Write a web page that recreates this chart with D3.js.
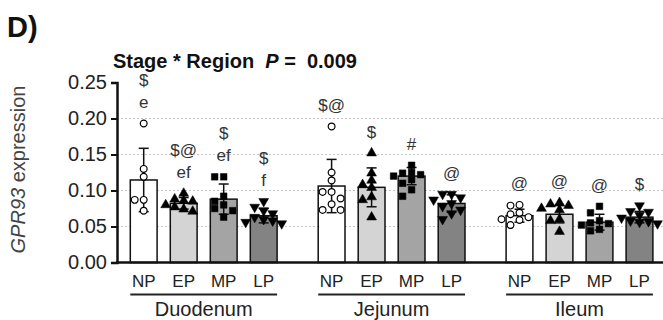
<!DOCTYPE html>
<html>
<head>
<meta charset="utf-8">
<script src="https://cdn.jsdelivr.net/npm/d3@7"></script>
<style>
  body { margin: 0; background: #fff; }
  text { font-family: "Liberation Sans", Arial, sans-serif; }
</style>
</head>
<body>
<svg id="chart"></svg>
<script>
const width = 663;
const height = 320;

const regions = ["Duodenum", "Jejunum", "Ileum"];
const stages = ["NP", "EP", "MP", "LP"];
const yTicks = [0, 0.05, 0.10, 0.15, 0.20, 0.25];

// bar heights (mean) and SD
const duodenumMeans = [0.1146, 0.0822, 0.088, 0.065];
const jejunumMeans = [0.1062, 0.1044, 0.120, 0.082];
const ileumMeans = [0.065, 0.067, 0.056, 0.063];

const duodenumSD = [0.044, 0.008, 0.021, 0.010];
const jejunumSD = [0.037, 0.027, 0.012, 0.012];
const ileumSD = [0.009, 0.012, 0.011, 0.008];

// individual animals
const duodenumPoints = [
  [0.193, 0.130, 0.119, 0.087, 0.087, 0.072],
  [0.096, 0.088, 0.086, 0.085, 0.080, 0.077, 0.074, 0.071],
  [0.119, 0.119, 0.092, 0.085, 0.080, 0.075, 0.072, 0.063],
  [0.085, 0.077, 0.072, 0.068, 0.063, 0.060, 0.058, 0.056, 0.054]
];
const jejunumPoints = [
  [0.189, 0.125, 0.114, 0.098, 0.098, 0.089, 0.081, 0.073, 0.073],
  [0.152, 0.124, 0.114, 0.108, 0.104, 0.091, 0.087, 0.063],
  [0.135, 0.125, 0.124, 0.122, 0.120, 0.115, 0.110, 0.101, 0.092],
  [0.095, 0.095, 0.090, 0.087, 0.082, 0.078, 0.073, 0.068, 0.060]
];
const ileumPoints = [
  [0.080, 0.079, 0.069, 0.067, 0.063, 0.060, 0.059, 0.052],
  [0.083, 0.081, 0.079, 0.075, 0.073, 0.060, 0.058, 0.043],
  [0.078, 0.069, 0.058, 0.055, 0.054, 0.052, 0.046, 0.044],
  [0.079, 0.071, 0.070, 0.066, 0.062, 0.058, 0.057, 0.056, 0.054]
];

// significance letters, top line first
const duodenumLetters = [["$", "e"], ["$@", "ef"], ["$", "ef"], ["$", "f"]];
const jejunumLetters = [["$@"], ["$"], ["#"], ["@"]];
const ileumLetters = [["@"], ["@"], ["@"], ["$"]];

const stageFill = ["#ffffff", "#d4d4d4", "#a4a4a4", "#838383"];
const stageSymbol = [d3.symbolCircle, d3.symbolTriangle, d3.symbolSquare, d3.symbolTriangle];

const byRegion = {
  Duodenum: [duodenumMeans, duodenumSD, duodenumPoints, duodenumLetters],
  Jejunum: [jejunumMeans, jejunumSD, jejunumPoints, jejunumLetters],
  Ileum: [ileumMeans, ileumSD, ileumPoints, ileumLetters]
};

const rows = [];
regions.forEach(r => {
  const [m, s, p, l] = byRegion[r];
  stages.forEach((st, i) => {
    rows.push({ region: r, stage: st, i, mean: m[i], sd: s[i], points: p[i], letters: l[i] });
  });
});

const svg = d3.select("#chart")
  .attr("width", width)
  .attr("height", height);

const axisX = 117;

const y = d3.scaleLinear()
  .domain([0, 0.25])
  .range([262.5, 82.5]);

const xRegion = d3.scaleBand()
  .domain(regions)
  .range([123.7, 659.5])
  .paddingInner(0.1485)
  .paddingOuter(0);

const xStage = d3.scaleBand()
  .domain(stages)
  .range([0, xRegion.bandwidth()])
  .paddingInner(0.33)
  .paddingOuter(0.165);

const barX = d => xRegion(d.region) + xStage(d.stage);
const barC = d => barX(d) + xStage.bandwidth() / 2;

// grid
svg.append("g")
  .selectAll("line")
  .data(yTicks.filter(t => t > 0 && t < 0.25))
  .join("line")
  .attr("x1", axisX)
  .attr("x2", width)
  .attr("y1", d => y(d))
  .attr("y2", d => y(d))
  .attr("stroke", "#c4c4c4")
  .attr("stroke-width", 1)
  .attr("stroke-dasharray", "2,2");

// bars
svg.append("g")
  .selectAll("rect")
  .data(rows)
  .join("rect")
  .attr("x", barX)
  .attr("y", d => y(d.mean))
  .attr("width", xStage.bandwidth())
  .attr("height", d => y(0) - y(d.mean))
  .attr("fill", d => stageFill[d.i])
  .attr("stroke", "#111")
  .attr("stroke-width", 1.5);

// error bars
const err = svg.append("g")
  .attr("stroke", "#111")
  .attr("stroke-width", 1.5)
  .selectAll("g")
  .data(rows)
  .join("g");

err.append("line")
  .attr("x1", barC).attr("x2", barC)
  .attr("y1", d => y(d.mean - d.sd))
  .attr("y2", d => y(d.mean + d.sd));
err.append("line")
  .attr("x1", d => barC(d) - 5).attr("x2", d => barC(d) + 5)
  .attr("y1", d => y(d.mean + d.sd))
  .attr("y2", d => y(d.mean + d.sd));
err.append("line")
  .attr("x1", d => barC(d) - 5).attr("x2", d => barC(d) + 5)
  .attr("y1", d => y(d.mean - d.sd))
  .attr("y2", d => y(d.mean - d.sd));

// points, spread sideways when they overlap
function spread(values) {
  const placed = [];
  const steps = [0, -1, 1, -2, 2];
  values.slice().sort((a, b) => b - a).forEach(v => {
    const py = y(v);
    let off = 0;
    for (const s of steps) {
      const ox = s * 9;
      if (!placed.some(p => Math.abs(p.ox - ox) < 8 && Math.abs(p.py - py) < 7)) {
        off = ox;
        break;
      }
    }
    placed.push({ v, py, ox: off });
  });
  return placed;
}

rows.forEach(d => {
  const sym = d3.symbol().type(stageSymbol[d.i]).size(d.i === 0 ? 36 : d.i === 2 ? 44 : 42);
  svg.append("g")
    .selectAll("path")
    .data(spread(d.points))
    .join("path")
    .attr("d", sym)
    .attr("transform", p => `translate(${barC(d) + p.ox},${p.py})${d.i === 3 ? " rotate(180)" : ""}`)
    .attr("fill", d.i === 0 ? "#fff" : "#000")
    .attr("stroke", "#000")
    .attr("stroke-width", d.i === 0 ? 1.2 : 0.5);
});

// significance letters
rows.forEach(d => {
  const top = Math.max(d3.max(d.points), d.mean + d.sd);
  const n = d.letters.length;
  svg.append("g")
    .selectAll("text")
    .data(d.letters)
    .join("text")
    .attr("x", barC(d))
    .attr("y", (t, k) => y(top) - 21 - (n - 1 - k) * 22)
    .attr("text-anchor", "middle")
    .attr("dominant-baseline", "central")
    .attr("font-size", 17)
    .attr("fill", "#333")
    .text(t => t);
});

// axes
const yAxis = svg.append("g")
  .attr("transform", `translate(${axisX},0)`)
  .call(d3.axisLeft(y).tickValues(yTicks).tickFormat(d3.format(".2f")).tickSize(6).tickPadding(4));
yAxis.select(".domain").attr("stroke", "#111").attr("stroke-width", 2.5);
yAxis.selectAll(".tick line").attr("stroke", "#111").attr("stroke-width", 2);
yAxis.selectAll(".tick text")
  .attr("font-size", 20)
  .attr("font-family", "Liberation Sans, Arial, sans-serif")
  .attr("fill", "#222");

svg.append("line")
  .attr("x1", axisX - 1)
  .attr("x2", width)
  .attr("y1", y(0))
  .attr("y2", y(0))
  .attr("stroke", "#111")
  .attr("stroke-width", 2.5);

// stage labels under each bar
svg.append("g")
  .selectAll("text")
  .data(rows)
  .join("text")
  .attr("x", barC)
  .attr("y", 287)
  .attr("text-anchor", "middle")
  .attr("font-size", 17)
  .attr("fill", "#222")
  .text(d => d.stage);

// region brackets and names
const reg = svg.append("g")
  .selectAll("g")
  .data(regions)
  .join("g");

reg.append("line")
  .attr("x1", r => xRegion(r) + xStage(stages[0]))
  .attr("x2", r => xRegion(r) + xStage(stages[3]) + xStage.bandwidth())
  .attr("y1", 294.5)
  .attr("y2", 294.5)
  .attr("stroke", "#222")
  .attr("stroke-width", 2);

reg.append("text")
  .attr("x", r => xRegion(r) + xRegion.bandwidth() / 2)
  .attr("y", 316)
  .attr("text-anchor", "middle")
  .attr("font-size", 20)
  .attr("fill", "#222")
  .text(r => r);

// y label
const ylab = svg.append("text")
  .attr("transform", "translate(25,169.5) rotate(-90)")
  .attr("text-anchor", "middle")
  .attr("font-size", 20)
  .attr("fill", "#444");
ylab.append("tspan").attr("font-style", "italic").text("GPR93");
ylab.append("tspan").text(" expression");

// titles
svg.append("text")
  .attr("x", 7)
  .attr("y", 37)
  .attr("font-size", 29)
  .attr("font-weight", "bold")
  .attr("fill", "#111")
  .text("D)");

const sub = svg.append("text")
  .attr("x", 113)
  .attr("y", 68)
  .attr("font-size", 20)
  .attr("font-weight", "bold")
  .attr("fill", "#111")
  .style("white-space", "pre");
sub.append("tspan").text("Stage * Region  ");
sub.append("tspan").attr("font-style", "italic").text("P");
sub.append("tspan").text(" =  0.009");
</script>
</body>
</html>
